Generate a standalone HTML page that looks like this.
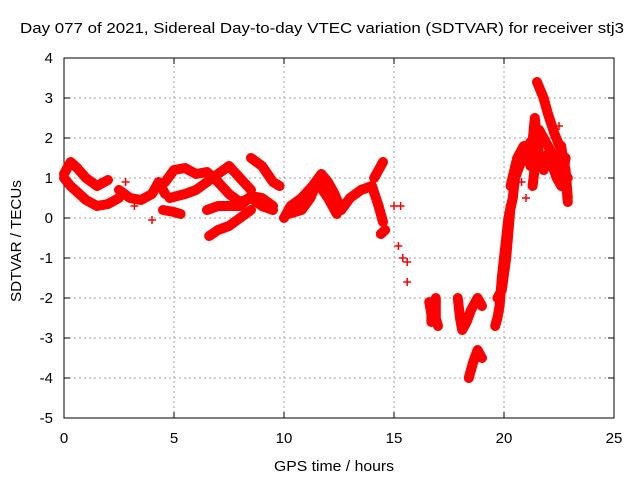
<!DOCTYPE html>
<html><head><meta charset="utf-8"><style>
html,body{margin:0;padding:0;background:#fff;}
svg{display:block;font-family:"Liberation Sans",sans-serif;}
</style></head><body>
<svg id="c" width="640" height="480"></svg>
<script>
const xTicks=[0,5,10,15,20,25];
const yTicks=[-5,-4,-3,-2,-1,0,1,2,3,4];
const trackA=[[0,1.1],[0.3,1.4],[0.6,1.25],[1,1.0],[1.5,0.8],[2,0.95]];
const trackB=[[0,1.0],[0.3,0.8],[0.7,0.6],[1,0.45],[1.5,0.3],[2,0.35],[2.5,0.5]];
const trackC=[[2.5,0.7],[3,0.5],[3.5,0.45],[4,0.6],[4.3,0.9],[4.6,0.6]];
const trackD=[[4.6,0.9],[5,1.2],[5.5,1.25],[6,1.1],[6.5,1.15],[7,0.9],[7.5,0.6],[8,0.4],[8.5,0.5],[9,0.3],[9.5,0.2]];
const trackE=[[4.5,0.2],[5,0.15],[5.3,0.1]];
const trackF=[[4.8,0.5],[5.5,0.6],[6,0.7],[6.5,0.9],[7,1.1],[7.5,1.3],[8,1.0],[8.5,0.7]];
const trackG=[[6.5,0.2],[7,0.3],[7.5,0.3],[8,0.3],[8.5,0.55],[9,0.5],[9.5,0.3]];
const trackH=[[6.6,-0.45],[7,-0.3],[7.5,-0.2],[8,0],[8.5,0.2]];
const trackI=[[8.5,1.5],[9,1.3],[9.5,0.9],[9.8,0.8]];
const trackJ=[[10,0.0],[10.3,0.3],[10.8,0.5],[11.3,0.8],[11.7,1.1],[12,0.9],[12.3,0.6],[12.6,0.2],[13,0.5],[13.5,0.7],[14,0.8],[14.3,0.3],[14.5,-0.1]];
const trackK=[[10.2,0.1],[10.8,0.2],[11.2,0.5],[11.5,0.9],[12,0.5],[12.4,0.1]];
const trackL=[[14.1,1.0],[14.3,1.2],[14.5,1.4]];
const trackM=[[14.4,-0.4],[14.6,-0.3]];
const trackN=[[16.6,-2.1],[16.7,-2.4],[16.7,-2.6]];
const trackO=[[16.9,-2.0],[16.9,-2.5],[17,-2.7]];
const trackP=[[17.9,-2.0],[18,-2.5],[18.1,-2.8],[18.3,-2.6],[18.5,-2.3],[18.8,-2.0],[19,-2.2]];
const trackQ=[[18.4,-4.0],[18.6,-3.6],[18.8,-3.3],[19,-3.5]];
const trackR=[[19.6,-2.7],[19.7,-2.5],[19.8,-2.2],[19.9,-1.5],[20,-1.0],[20.1,-0.5],[20.2,0.0],[20.4,0.5],[20.5,1.0],[20.7,1.3],[21,1.6],[21.2,1.9]];
const trackS=[[21.5,3.4],[21.8,3.0],[22,2.6],[22.3,2.1],[22.6,1.7],[22.8,1.2],[22.9,0.5]];
const trackT=[[21.2,1.3],[21.4,2.5],[21.6,1.5],[21.8,1.2],[22,1.6],[22.4,1.0],[22.6,0.8],[22.8,1.5]];
const trackU=[[21.3,0.8],[21.6,2.2],[22,1.8],[22.5,1.3],[22.9,1.0]];
const trackV=[[22.6,1.8],[22.8,1.0],[22.9,0.4]];
const trackW=[[20.3,0.8],[20.6,1.5],[20.9,1.8]];
const trackX=[[19.7,-2.0],[19.9,-1.8],[20.1,-1.0],[20.3,0.3]];
const scatterPts=[[2.8,0.9],[3.2,0.3],[4,-0.05],[15,0.3],[15.3,0.3],[15.2,-0.7],[15.4,-1.0],[15.6,-1.1],[15.6,-1.6],[20.8,0.9],[21,0.5],[22.5,2.3]];
const tracks=[trackA,trackB,trackC,trackD,trackE,trackF,trackG,trackH,trackI,trackJ,trackK,trackL,trackM,trackN,trackO,trackP,trackQ,trackR,trackS,trackT,trackU,trackV,trackW,trackX];

const NS="http://www.w3.org/2000/svg";
const svg=document.getElementById('c');
const X0=64,X1=614,Y0=418,Y1=58;
function sx(t){return X0+(t-0)/(25-0)*(X1-X0);}
function sy(v){return Y0-(v-(-5))/(4-(-5))*(Y0-Y1);}
function mk(tag,attrs,parent){const e=document.createElementNS(NS,tag);for(const k in attrs)e.setAttribute(k,attrs[k]);(parent||svg).appendChild(e);return e;}

const grid=mk('g',{});


xTicks.forEach(t=>{if(t>0&&t<25)mk('line',{x1:sx(t),x2:sx(t),y1:Y0,y2:Y1,stroke:'#a0a0a0','stroke-dasharray':'2,3','stroke-width':1},grid);});
yTicks.forEach(v=>{if(v>-5&&v<4)mk('line',{x1:X0,x2:X1,y1:sy(v),y2:sy(v),stroke:'#a0a0a0','stroke-dasharray':'2,3','stroke-width':1},grid);});

const frame=mk('rect',{x:X0,y:Y1,width:X1-X0,height:Y0-Y1,fill:'none',stroke:'#000','stroke-width':1});



xTicks.forEach(t=>{
  mk('line',{x1:sx(t),x2:sx(t),y1:Y0,y2:Y0-6,stroke:'#000'});
  mk('line',{x1:sx(t),x2:sx(t),y1:Y1,y2:Y1+6,stroke:'#000'});
  const l=mk('text',{x:sx(t),y:443,'text-anchor':'middle','font-size':15});
  l.textContent=t;
  
  
});
yTicks.forEach(v=>{
  mk('line',{x1:X0,x2:X0+6,y1:sy(v),y2:sy(v),stroke:'#000'});
  mk('line',{x1:X1,x2:X1-6,y1:sy(v),y2:sy(v),stroke:'#000'});
  const l=mk('text',{x:53,y:sy(v)+5,'text-anchor':'end','font-size':15});
  l.textContent=v;
  
  
});

const series=mk('g',{});


tracks.forEach(tr=>{
  const pl=mk('polyline',{points:tr.map(p=>sx(p[0])+','+sy(p[1])).join(' '),fill:'none',stroke:'#ff0000','stroke-width':10,'stroke-linejoin':'round','stroke-linecap':'round'},series);
  
  
});
function plus(p){
  const x=sx(p[0]),y=sy(p[1]);
  const g=mk('path',{d:`M${x-4},${y}H${x+4}M${x},${y-4}V${y+4}`,stroke:'#ff0000','stroke-width':1.5},series);
  
  
}
tracks.forEach(tr=>tr.forEach(plus));
scatterPts.forEach(plus);

const title=mk('text',{x:20,y:33,'font-size':15,textLength:604,lengthAdjust:'spacingAndGlyphs'});
title.textContent='Day 077 of 2021, Sidereal Day-to-day VTEC variation (SDTVAR) for receiver stj3';


const xt=mk('text',{x:274,y:471,'font-size':15,textLength:120,lengthAdjust:'spacingAndGlyphs'});
xt.textContent='GPS time / hours';


const yt=mk('text',{x:0,y:0,'font-size':15,textLength:122,lengthAdjust:'spacingAndGlyphs',transform:'translate(21 302) rotate(-90)'});
yt.textContent='SDTVAR / TECUs';


</script>
</body></html>
